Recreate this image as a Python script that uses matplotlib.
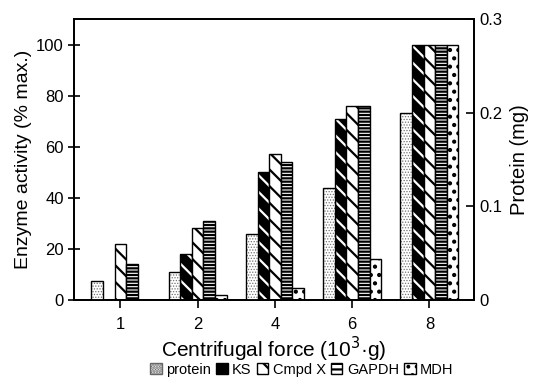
import matplotlib
matplotlib.use('Agg')
import matplotlib.pyplot as plt
import numpy as np
from matplotlib.patches import Patch

plt.rcParams['font.family'] = ['Liberation Sans', 'DejaVu Sans']
plt.rcParams['hatch.linewidth'] = 1.6

forces = ['1', '2', '4', '6', '8']
protein_mg = [0.020, 0.030, 0.070, 0.120, 0.200]
ks = [0, 18, 50, 71, 100]
cmpd_x = [22, 28, 57, 76, 100]
gapdh = [14, 31, 54, 76, 100]
mdh = [0, 2, 4.5, 16, 100]

x = np.arange(len(forces))
w = 0.15

fig = plt.figure(figsize=(5.37, 3.87), dpi=100)
ax = fig.add_axes([0.138, 0.225, 0.745, 0.726])
ax2 = ax.twinx()

# protein on the right axis, fine grey stipple
plt.rcParams['hatch.linewidth'] = 0.6
ax2.bar(x - 2 * w, protein_mg, w, facecolor='white', edgecolor='0.45',
        hatch='......', linewidth=0)
ax2.bar(x - 2 * w, protein_mg, w, fill=False, edgecolor='black', linewidth=1.0)
plt.rcParams['hatch.linewidth'] = 1.6

# KS: black bars with white stripes
ax.bar(x - w, ks, w, facecolor='black', edgecolor='white', hatch='\\\\', linewidth=0)
ax.bar(x - w, ks, w, fill=False, edgecolor='black', linewidth=1.0)
ax.bar(x, cmpd_x, w, facecolor='white', edgecolor='black', hatch='\\\\', linewidth=1.0)
ax.bar(x + w, gapdh, w, facecolor='white', edgecolor='black', hatch='-----', linewidth=1.0)
plt.rcParams['hatch.linewidth'] = 1.8
ax.bar(x + 2 * w, mdh, w, facecolor='white', edgecolor='black', hatch='..', linewidth=1.0)
plt.rcParams['hatch.linewidth'] = 1.6

ax.set_xlim(-0.6, 4.58)
ax.set_ylim(0, 110)
ax2.set_ylim(0, 0.3)
ax.set_xticks(x, forces)
ax.set_yticks([0, 20, 40, 60, 80, 100])
ax2.set_yticks([0, 0.1, 0.2, 0.3], ['0', '0.1', '0.2', '0.3'])

for a in (ax, ax2):
    for s in a.spines.values():
        s.set_linewidth(1.3)
ax.tick_params(axis='y', direction='inout', length=8, width=1.2, labelsize=12)
ax.tick_params(axis='x', direction='out', length=6, width=1.2, labelsize=12, pad=6)
ax2.tick_params(axis='y', direction='in', length=6, width=1.2, labelsize=12)

ax.set_ylabel('Enzyme activity (% max.)', fontsize=14, labelpad=3)
ax2.set_ylabel('Protein (mg)', fontsize=14.5, labelpad=6)
ax.set_xlabel('Centrifugal force (10$^{3}$·g)', fontsize=15, labelpad=2)

handles = [
    Patch(facecolor='white', edgecolor='0.4', hatch='......', label='protein'),
    Patch(facecolor='black', edgecolor='black', label='KS'),
    Patch(facecolor='white', edgecolor='black', hatch='\\\\', label='Cmpd X'),
    Patch(facecolor='white', edgecolor='black', hatch='---', label='GAPDH'),
    Patch(facecolor='white', edgecolor='black', hatch='..', label='MDH'),
]
fig.legend(handles=handles, loc='center', bbox_to_anchor=(0.562, 0.045), ncol=5,
           frameon=False, fontsize=10.5, handlelength=0.8, handleheight=0.8,
           handletextpad=0.3, columnspacing=0.35, borderpad=0)

fig.savefig('out.png', dpi=100)
